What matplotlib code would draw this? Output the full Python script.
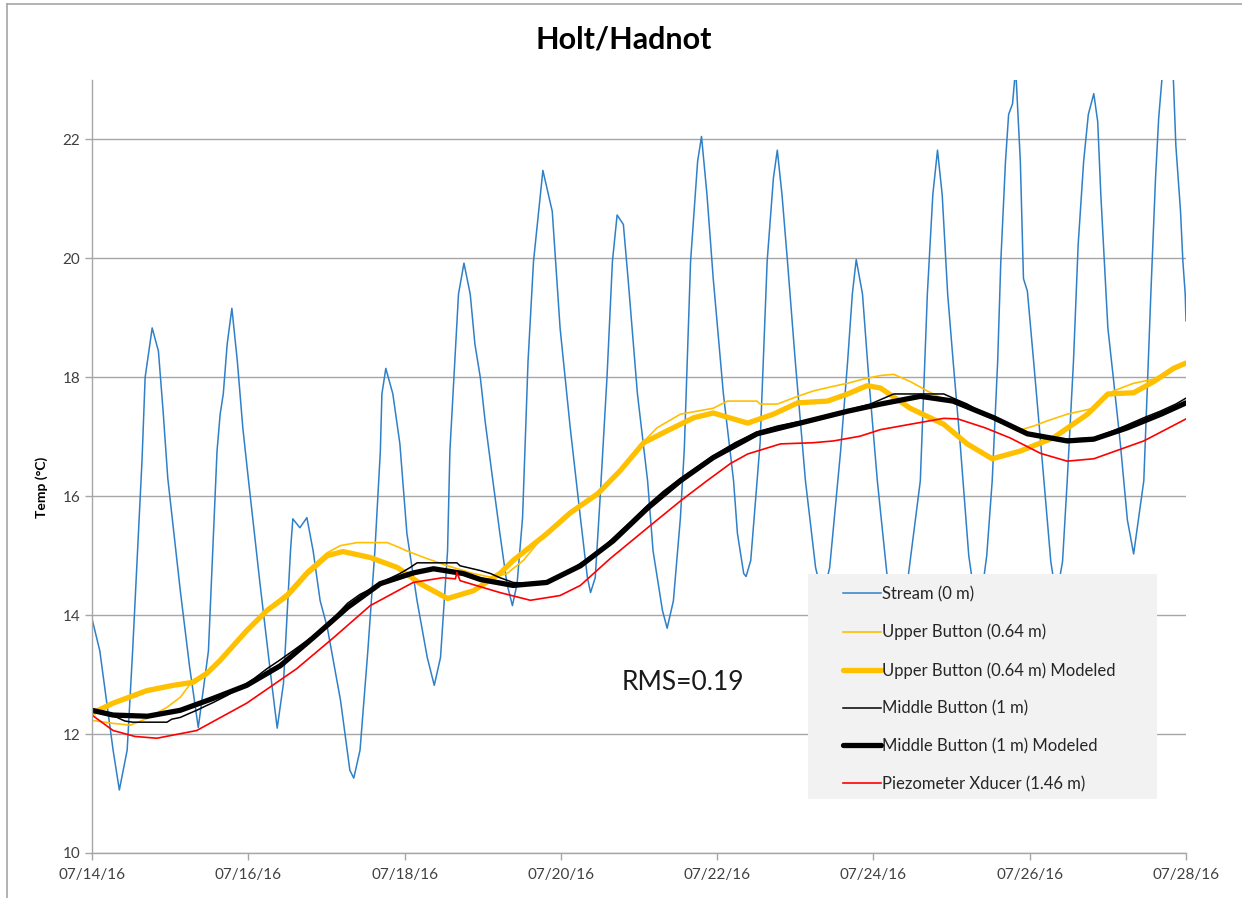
import matplotlib
matplotlib.use("Agg")
import matplotlib.pyplot as plt
import matplotlib.dates as mdates
from matplotlib.patches import Rectangle
from matplotlib.lines import Line2D
import pandas as pd

START = pd.Timestamp("2016-07-14")

# days since 07/14/16 00:00, temperature in C
stream_days = [0.00, 0.10, 0.27, 0.35, 0.45, 0.52, 0.64, 0.68, 0.77, 0.85, 0.91, 0.97,
               1.13, 1.25, 1.36, 1.49, 1.60, 1.64, 1.68, 1.73, 1.79, 1.86, 1.93, 2.00,
               2.15, 2.30, 2.37, 2.45, 2.54, 2.57, 2.66, 2.75, 2.83, 2.92, 3.01, 3.18,
               3.30, 3.35, 3.43, 3.53, 3.62, 3.69, 3.71, 3.76, 3.85, 3.94, 4.03, 4.16,
               4.29, 4.38, 4.46, 4.55, 4.58, 4.62, 4.69, 4.76, 4.84, 4.90, 4.97, 5.03,
               5.13, 5.22, 5.31, 5.38, 5.44, 5.51, 5.54, 5.58, 5.65, 5.77, 5.89, 5.99,
               6.12, 6.25, 6.34, 6.38, 6.44, 6.50, 6.59, 6.66, 6.72, 6.80, 6.86, 6.98,
               7.11, 7.18, 7.30, 7.36, 7.44, 7.53, 7.58, 7.66, 7.75, 7.80, 7.87, 7.95,
               8.08, 8.21, 8.26, 8.34, 8.37, 8.43, 8.49, 8.55, 8.64, 8.72, 8.77, 8.83,
               8.90, 9.00, 9.13, 9.26, 9.35, 9.44, 9.58, 9.67, 9.73, 9.78, 9.86, 9.94,
               10.05, 10.18, 10.31, 10.44, 10.60, 10.69, 10.76, 10.82, 10.88, 10.95, 11.02, 11.11,
               11.22, 11.34, 11.45, 11.52, 11.59, 11.63, 11.69, 11.73, 11.78, 11.82, 11.88, 11.92,
               11.97, 12.05, 12.16, 12.27, 12.34, 12.42, 12.48, 12.56, 12.62, 12.69, 12.75, 12.82,
               12.87, 12.91, 13.00, 13.07, 13.16, 13.25, 13.33, 13.39, 13.46, 13.55, 13.61, 13.65,
               13.71, 13.76, 13.83, 13.87, 13.93, 13.96, 13.99, 14.00]
stream_temp = [13.94, 13.40, 11.73, 11.06, 11.73, 13.40, 16.60, 18.00, 18.83, 18.44, 17.43, 16.30,
               14.41, 13.12, 12.11, 13.40, 16.76, 17.38, 17.72, 18.56, 19.16, 18.27, 17.15, 16.30,
               14.53, 12.85, 12.10, 12.85, 15.08, 15.62, 15.47, 15.64, 15.08, 14.24, 13.80, 12.57,
               11.39, 11.26, 11.73, 13.40, 15.08, 16.76, 17.72, 18.15, 17.72, 16.88, 15.37, 14.24,
               13.29, 12.82, 13.29, 15.08, 16.76, 17.72, 19.40, 19.92, 19.40, 18.56, 17.99, 17.27,
               16.26, 15.37, 14.53, 14.16, 14.53, 15.64, 16.76, 18.27, 19.95, 21.48, 20.79, 18.83,
               17.15, 15.64, 14.63, 14.38, 14.63, 15.92, 17.99, 19.95, 20.73, 20.57, 19.66, 17.72,
               16.26, 15.08, 14.08, 13.78, 14.24, 15.64, 16.80, 19.95, 21.63, 22.05, 21.07, 19.66,
               17.72, 16.26, 15.37, 14.70, 14.65, 14.92, 15.92, 16.90, 19.95, 21.35, 21.82, 21.07,
               19.95, 18.27, 16.26, 14.80, 14.30, 14.80, 16.76, 18.27, 19.40, 19.98, 19.40, 17.99,
               16.26, 14.60, 14.00, 14.60, 16.26, 19.40, 21.07, 21.82, 21.07, 19.40, 18.27, 16.88,
               15.00, 13.90, 15.00, 16.26, 18.27, 19.95, 21.63, 22.42, 22.60, 23.20, 21.63, 19.66,
               19.45, 18.27, 16.60, 14.90, 14.30, 14.90, 16.26, 18.27, 20.23, 21.63, 22.42, 22.77,
               22.30, 21.07, 18.83, 17.99, 16.88, 15.60, 15.03, 15.60, 16.26, 19.40, 21.35, 22.35,
               23.30, 23.60, 23.30, 21.90, 20.79, 19.95, 19.40, 18.95]

upper_days = [0.00, 0.27, 0.49, 0.70, 0.96, 1.13, 1.29, 1.47, 1.64, 1.98, 2.24, 2.50,
              2.75, 3.01, 3.18, 3.39, 3.78, 3.91, 4.03, 4.29, 4.55, 4.88, 5.13, 5.31,
              5.52, 5.82, 6.12, 6.47, 6.76, 7.06, 7.23, 7.53, 7.95, 8.13, 8.51, 8.55,
              8.77, 9.03, 9.23, 9.49, 9.67, 9.87, 10.09, 10.26, 10.47, 10.69, 10.95, 11.20,
              11.54, 11.84, 12.05, 12.23, 12.48, 12.82, 13.07, 13.33, 13.59, 13.76, 14.00]
upper_temp = [12.23, 12.18, 12.15, 12.26, 12.45, 12.62, 12.90, 13.05, 13.25, 13.76, 14.10, 14.38,
              14.75, 15.05, 15.17, 15.22, 15.22, 15.15, 15.08, 14.95, 14.83, 14.70, 14.63, 14.70,
              14.92, 15.40, 15.75, 16.05, 16.45, 16.92, 17.15, 17.38, 17.48, 17.60, 17.60, 17.55,
              17.55, 17.68, 17.77, 17.85, 17.90, 17.97, 18.03, 18.05, 17.93, 17.77, 17.60, 17.48,
              17.30, 17.10, 17.18, 17.27, 17.38, 17.48, 17.77, 17.90, 17.97, 18.10, 18.24]

upper_mod_days = [0.00, 0.27, 0.70, 1.04, 1.29, 1.47, 1.64, 1.98, 2.24, 2.50, 2.75, 3.01,
                  3.21, 3.56, 3.91, 4.20, 4.55, 4.88, 5.22, 5.39, 5.82, 6.12, 6.47, 6.76,
                  7.06, 7.36, 7.70, 7.95, 8.39, 8.72, 9.03, 9.41, 9.67, 9.92, 10.09, 10.47,
                  10.90, 11.20, 11.52, 11.88, 12.30, 12.74, 13.00, 13.33, 13.59, 13.84, 14.00]
upper_mod_temp = [12.35, 12.52, 12.73, 12.82, 12.87, 13.02, 13.24, 13.74, 14.08, 14.33, 14.70, 15.00,
                  15.07, 14.97, 14.80, 14.53, 14.28, 14.41, 14.70, 14.92, 15.37, 15.72, 16.04, 16.43,
                  16.90, 17.10, 17.32, 17.40, 17.23, 17.38, 17.57, 17.60, 17.72, 17.86, 17.82, 17.48,
                  17.21, 16.88, 16.63, 16.76, 16.98, 17.38, 17.72, 17.74, 17.93, 18.15, 18.24]

middle_days = [0.00, 0.17, 0.32, 0.42, 0.52, 0.96, 1.02, 1.13, 1.25, 1.34, 1.45, 1.55,
               1.73, 1.89, 2.06, 2.24, 2.41, 2.57, 2.75, 2.92, 3.09, 3.27, 3.43, 3.60,
               3.78, 3.94, 4.07, 4.16, 4.67, 4.71, 4.84, 4.97, 5.10, 5.22, 5.39, 5.61,
               5.83, 6.06, 6.25, 6.47, 6.67, 6.89, 7.11, 7.31, 7.53, 7.75, 7.95, 8.23,
               8.51, 8.77, 9.03, 9.32, 9.67, 9.96, 10.26, 10.60, 10.90, 11.02, 11.20, 11.37,
               11.54, 11.75, 11.97, 12.23, 12.48, 12.82, 13.03, 13.25, 13.46, 13.67, 13.87, 14.00]
middle_temp = [12.42, 12.35, 12.28, 12.22, 12.20, 12.20, 12.25, 12.28, 12.35, 12.40, 12.47, 12.53,
               12.65, 12.78, 12.92, 13.10, 13.25, 13.40, 13.57, 13.74, 13.95, 14.20, 14.35, 14.46,
               14.60, 14.70, 14.80, 14.88, 14.88, 14.83, 14.79, 14.75, 14.70, 14.63, 14.55, 14.53,
               14.58, 14.70, 14.87, 15.05, 15.30, 15.57, 15.85, 16.08, 16.30, 16.50, 16.68, 16.90,
               17.08, 17.18, 17.25, 17.30, 17.45, 17.55, 17.72, 17.72, 17.72, 17.65, 17.55, 17.42,
               17.33, 17.18, 17.07, 17.00, 16.96, 16.98, 17.08, 17.20, 17.32, 17.43, 17.55, 17.65]

middle_mod_days = [0.00, 0.27, 0.71, 1.13, 1.55, 1.98, 2.41, 2.83, 3.27, 3.69, 4.11, 4.37,
                   4.75, 4.97, 5.39, 5.82, 6.25, 6.67, 7.11, 7.53, 7.95, 8.51, 9.03, 9.67,
                   10.09, 10.60, 11.02, 11.54, 11.97, 12.48, 12.82, 13.25, 13.68, 14.00]
middle_mod_temp = [12.40, 12.32, 12.30, 12.40, 12.60, 12.82, 13.15, 13.62, 14.13, 14.53, 14.71, 14.78,
                   14.70, 14.60, 14.50, 14.55, 14.83, 15.25, 15.80, 16.26, 16.65, 17.05, 17.22, 17.43,
                   17.55, 17.68, 17.60, 17.32, 17.05, 16.93, 16.96, 17.15, 17.38, 17.57]

piezo_days = [0.00, 0.27, 0.55, 0.83, 1.34, 1.98, 2.62, 3.09, 3.56, 4.11, 4.49, 4.65,
              4.67, 4.71, 5.22, 5.61, 5.99, 6.25, 6.63, 7.11, 7.53, 7.87, 8.17, 8.39,
              8.81, 9.23, 9.49, 9.83, 10.09, 10.47, 10.90, 11.08, 11.43, 11.75, 12.14, 12.48,
              12.82, 13.46, 14.00]
piezo_temp = [12.32, 12.06, 11.96, 11.93, 12.06, 12.52, 13.10, 13.62, 14.16, 14.55, 14.63, 14.61,
              14.72, 14.58, 14.38, 14.25, 14.33, 14.50, 14.95, 15.47, 15.92, 16.26, 16.55, 16.71,
              16.88, 16.90, 16.93, 17.01, 17.12, 17.21, 17.31, 17.30, 17.15, 16.98, 16.72, 16.59,
              16.63, 16.93, 17.30]

labels = ["Stream (0 m)", "Upper Button (0.64 m)", "Upper Button (0.64 m) Modeled",
          "Middle Button (1 m)", "Middle Button (1 m) Modeled", "Piezometer Xducer (1.46 m)"]


def to_dates(days):
    return START + pd.to_timedelta(days, unit="D")


def main():
    plt.rcParams['font.family'] = ['Lato', 'DejaVu Sans']
    W, H = 1242, 898
    fig = plt.figure(figsize=(W / 100, H / 100), dpi=100)
    ax = fig.add_axes([92 / W, 1 - 853 / H, (1186 - 92) / W, (853 - 80) / H])

    ax.plot(to_dates(stream_days), stream_temp, color="#2f80c8", lw=1.1, label=labels[0])
    ax.plot(to_dates(upper_days), upper_temp, color="#ffc000", lw=1.2, label=labels[1])
    ax.plot(to_dates(upper_mod_days), upper_mod_temp, color="#ffc000", lw=3.8,
            solid_capstyle="round", label=labels[2])
    ax.plot(to_dates(middle_days), middle_temp, color="black", lw=1.1, label=labels[3])
    ax.plot(to_dates(middle_mod_days), middle_mod_temp, color="black", lw=3.8,
            solid_capstyle="round", label=labels[4])
    ax.plot(to_dates(piezo_days), piezo_temp, color="#ff0000", lw=1.2, label=labels[5])

    ax.set_xlim(START, START + pd.Timedelta(days=14))
    ax.set_ylim(10, 23)
    ax.set_yticks(range(10, 23, 2))
    ax.set_xticks(pd.date_range("2016-07-14", "2016-07-28", freq="2D"))
    ax.xaxis.set_major_formatter(mdates.DateFormatter("%m/%d/%y"))
    ax.grid(axis="y", color="#a6a6a6", lw=1.0)
    ax.set_axisbelow(True)
    for s in ["top", "right"]:
        ax.spines[s].set_visible(False)
    for s in ["left", "bottom"]:
        ax.spines[s].set_color("#a6a6a6")
        ax.spines[s].set_linewidth(1.0)
    ax.tick_params(colors="#a6a6a6", labelcolor="#404040", labelsize=11, length=5, width=1.0)
    ax.tick_params(axis="x", pad=6)

    # grey legend panel
    x0, y0 = (808 - 92) / 1094, (853 - 799) / 773
    ax.add_patch(Rectangle((x0, y0), (1157 - 808) / 1094, (799 - 574) / 773,
                           transform=ax.transAxes, facecolor="#f2f2f2", edgecolor="none", zorder=5))
    leg = ax.legend(loc="upper left", bbox_to_anchor=((843 - 92) / 1094, (853 - 586) / 773),
                    frameon=False, fontsize=12, handlelength=2.25, handletextpad=0.12,
                    labelspacing=1.3, borderpad=0, borderaxespad=0)
    leg.set_zorder(6)
    for t in leg.get_texts():
        t.set_color("#262626")

    ax.text((683 - 92) / 1094, (853 - 683) / 773, "RMS=0.19", transform=ax.transAxes,
            ha="center", va="center", fontsize=19, color="#1a1a1a")

    fig.text(624 / W, 1 - 40 / H, "Holt/Hadnot", ha="center", va="center",
             fontsize=22, fontweight="bold")
    fig.text(42 / W, 1 - 487 / H, "Temp (°C)", rotation=90, ha="center", va="center",
             fontsize=10, fontweight="bold")

    # chart border
    fig.add_artist(Line2D([7 / W, 1], [1 - 4 / H, 1 - 4 / H], color="#a6a6a6", lw=1.2))
    fig.add_artist(Line2D([7 / W, 7 / W], [0, 1 - 4 / H], color="#a6a6a6", lw=1.2))

    fig.savefig("out.png", dpi=100)


if __name__ == '__main__':
    main()
